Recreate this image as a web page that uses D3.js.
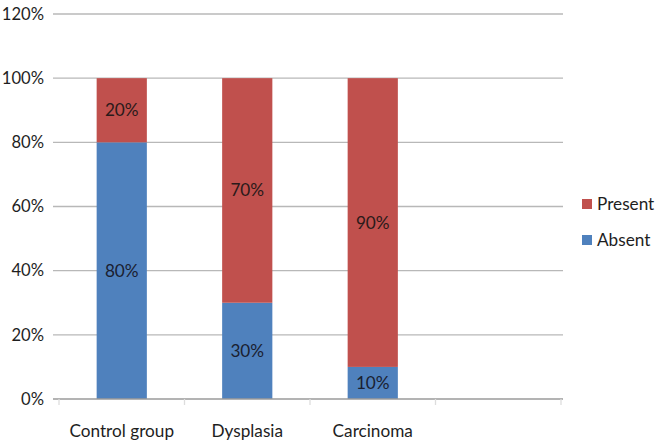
<!DOCTYPE html>
<html><head><meta charset="utf-8">
<script src="https://cdn.jsdelivr.net/npm/d3@7"></script>
<style>
html,body{margin:0;padding:0;background:#fff;}
text{font-family:Lato,"Open Sans",sans-serif;}
</style></head>
<body><svg id="c" width="655" height="443"></svg>
<script>
const categories = ["Control group","Dysplasia","Carcinoma",""];
const absent = [80, 30, 10, null];
const present = [20, 70, 90, null];
const yTicks = [0,20,40,60,80,100,120];
const seriesNames = ["Present","Absent"];
const colors = {Absent:"#4F81BD", Present:"#C0504D"};

(function(){
const svg = d3.select("#c");
const fs = 17.2;
const mLeft = 59, mRight = 561, mTop = 14, mBottom = 399;
const x = d3.scaleBand().domain(categories.map((d,i)=>i)).range([mLeft,mRight]).paddingInner(0.6).paddingOuter(0.3);
const y = d3.scaleLinear().domain([0,120]).range([mBottom,mTop]);

svg.append("g").selectAll("line").data(yTicks.filter(d=>d>0)).join("line")
  .attr("x1",53).attr("x2",563).attr("y1",d=>y(d)).attr("y2",d=>y(d))
  .attr("stroke","#b8b8b8").attr("stroke-width",1.3);
svg.append("g").selectAll("text").data(yTicks).join("text")
  .attr("x",44).attr("y",d=>y(d)).attr("dy","0.35em").attr("text-anchor","end")
  .attr("font-size",16.6).attr("fill","#1e1e1e").text(d=>d+"%");

const data = categories.map((c,i)=>({i, c, a:absent[i], p:present[i]})).filter(d=>d.a!=null);
const bw = x.bandwidth();
svg.append("g").selectAll("rect").data(data).join("rect")
  .attr("x",d=>x(d.i)).attr("width",bw).attr("y",d=>y(d.a)).attr("height",d=>y(0)-y(d.a))
  .attr("fill",colors.Absent);
svg.append("g").selectAll("rect").data(data).join("rect")
  .attr("x",d=>x(d.i)).attr("width",bw).attr("y",d=>y(d.a+d.p)).attr("height",d=>y(d.a)-y(d.a+d.p))
  .attr("fill",colors.Present);
svg.append("g").selectAll("text").data(data).join("text")
  .attr("x",d=>x(d.i)+bw/2).attr("y",d=>y(d.a/2)).attr("dy","0.35em").attr("text-anchor","middle")
  .attr("font-size",fs).attr("fill","#1a2030").text(d=>d.a+"%");
svg.append("g").selectAll("text").data(data).join("text")
  .attr("x",d=>x(d.i)+bw/2).attr("y",d=>y(d.a+d.p/2)).attr("dy","0.35em").attr("text-anchor","middle")
  .attr("font-size",fs).attr("fill","#2a1a1a").text(d=>d.p+"%");

svg.append("line").attr("x1",53).attr("x2",563).attr("y1",y(0)).attr("y2",y(0))
  .attr("stroke","#9a9a9a").attr("stroke-width",1.3);
const step = x.step();
const bounds = d3.range(categories.length+1).map(k=>mLeft + k*step);
svg.append("g").selectAll("line").data(bounds).join("line")
  .attr("x1",d=>d).attr("x2",d=>d).attr("y1",y(0)).attr("y2",y(0)+6)
  .attr("stroke","#dddddd").attr("stroke-width",1.3);
svg.append("g").selectAll("text").data(categories).join("text")
  .attr("x",(d,i)=>x(i)+bw/2).attr("y",437).attr("text-anchor","middle")
  .attr("font-size",fs).attr("fill","#1e1e1e").text(d=>d);

const lg = svg.append("g").selectAll("g").data(seriesNames).join("g")
  .attr("transform",(d,i)=>`translate(582,${204+i*36})`);
lg.append("rect").attr("x",0).attr("y",-5).attr("width",10).attr("height",10).attr("fill",d=>colors[d]);
lg.append("text").attr("x",15).attr("y",0).attr("dy","0.35em").attr("font-size",fs).attr("fill","#1e1e1e").text(d=>d);
})();
</script></body></html>
